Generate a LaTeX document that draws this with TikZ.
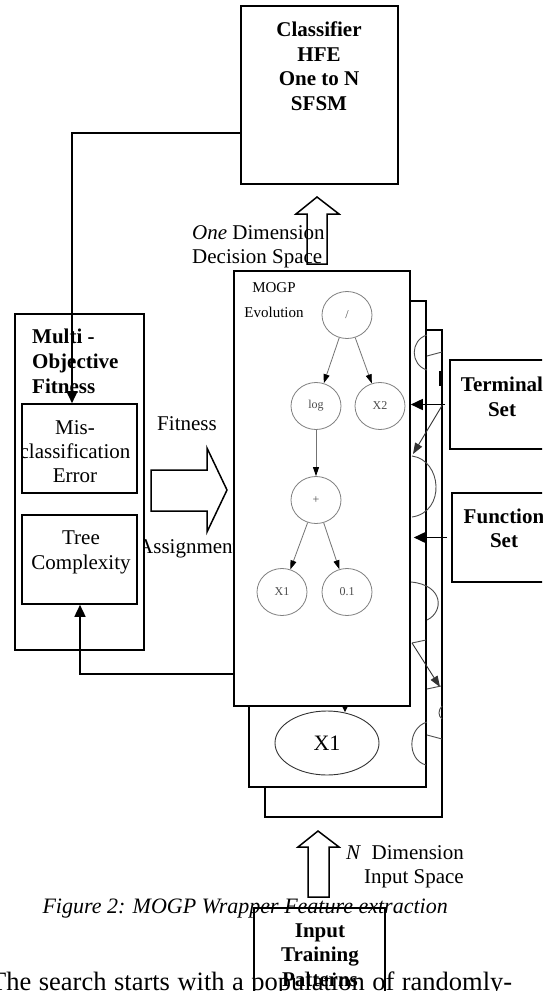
\documentclass[tikz,border=0pt]{standalone}
\usepackage{fontspec}
\setmainfont{Liberation Serif}
\usetikzlibrary{arrows.meta,shapes.geometric}
\begin{document}
\begin{tikzpicture}[x=1pt,y=-1pt,
  sheet/.style={draw,line width=1.6pt,fill=white,inner sep=0pt},
  plain/.style={font=\fontsize{21}{24}\selectfont,inner sep=0pt},
  heavy/.style={font=\fontsize{21}{24.5}\selectfont\bfseries,inner sep=0pt},
  conn/.style={line width=1.6pt,-{Triangle[length=12pt,width=11pt]}},
  blockarrow/.style={draw,line width=1.5pt,line join=miter},
  gnode/.style={ellipse,draw=black!50,line width=0.8pt,minimum width=50pt,minimum height=47pt,inner sep=0pt,font=\fontsize{12}{14}\selectfont,text=black!70},
  gedge/.style={draw=black!55,line width=0.8pt,-{Triangle[length=9pt,width=6pt,color=black]}},
  frag/.style={draw=black!70,line width=0.9pt},
  fragarrow/.style={draw=black!80,line width=0.9pt,-{Triangle[length=11pt,width=8pt]}},
]
\clip (0,0) rectangle (542,991);
\fill[white] (0,0) rectangle (542,991);

% population sheets stacked behind the current one
\node[sheet,minimum width=177pt,minimum height=487pt] (third) at (353.5,573.5) {};
\node[sheet,minimum width=177pt,minimum height=486pt] (second) at (337.5,544) {};

% visible parts of the trees on the sheets behind
\draw[frag] (427,335) .. controls (410,340) and (410,365) .. (427,370);
\draw[frag] (427,356) -- (442,352);
\draw[line width=1.5pt] (440,371) -- (440,386);
\draw[fragarrow] (443,404) -- (413,454);
\draw[frag] (412,456) .. controls (442,460) and (446,512) .. (412,517);
\draw[frag] (411,582) .. controls (444,585) and (444,612) .. (427,620);
\draw[frag] (412,643) -- (426,640);
\draw[fragarrow] (412,643) -- (440,687);
\draw[frag] (427,689) -- (441,686);
\draw[frag] (442,706) .. controls (438,710) and (438,716) .. (442,719);
\draw[frag] (427,722) .. controls (407,728) and (407,760) .. (426,765);
\draw[frag] (427,735) -- (442,739);
\node[ellipse,draw=black!80,line width=0.9pt,minimum width=104pt,minimum height=64pt,inner sep=0pt,font=\fontsize{22}{24}\selectfont] (bigx) at (327,743) {X1};
\fill (341,704) -- (349,704) -- (345,712) -- cycle;

% label partly hidden by the front sheet
\node[plain,anchor=base west] (assign) at (138,553) {Assignment};

% front sheet: MOGP evolution of a tree
\node[sheet,minimum width=176pt,minimum height=435pt] (front) at (322,488.5) {};
\node[font=\fontsize{15}{25}\selectfont,align=center,inner sep=0pt] (mogp) at (274,300.5) {MOGP\\Evolution};

\node[gnode] (root) at (347,315) {/};
\node[gnode] (log) at (316,406) {log};
\node[gnode] (x2) at (380,406) {X2};
\node[gnode] (plus) at (316,500) {+};
\node[gnode] (x1) at (282,592) {X1};
\node[gnode] (c01) at (347,592) {0.1};
\draw[gedge] (root) -- (log);
\draw[gedge] (root) -- (x2);
\draw[gedge] (log) -- (plus);
\draw[gedge] (plus) -- (x1);
\draw[gedge] (plus) -- (c01);

% classifier
\node[sheet,minimum width=157pt,minimum height=178pt] (cls) at (319.5,95) {};
\node[heavy,align=center] (clstext) at (319,66) {Classifier\\HFE\\One to N\\SFSM};

% decision space arrow
\node[plain,align=left,anchor=west] (onedim) at (192,247) {\textit{One} Dimension\\Decision Space};
\draw[blockarrow] (307,264) -- (307,214) -- (296,214) -- (317,197) -- (339,214) -- (327,214) -- (327,264) -- cycle;

% multi-objective fitness
\node[sheet,minimum width=129pt,minimum height=336pt] (multi) at (79.5,482) {};
\node[font=\fontsize{21}{25}\selectfont\bfseries,inner sep=0pt,align=left,anchor=west] (multitext) at (32,361) {Multi -\\Objective\\Fitness};
\node[sheet,minimum width=115pt,minimum height=89pt] (mis) at (79.5,448.5) {};
\begin{scope}
  \clip (22,404) rectangle (137,493);
  \node[plain,align=center] (mistext) at (75,452) {Mis-\\classification\\Error};
\end{scope}
\node[sheet,minimum width=115pt,minimum height=89pt] (tree) at (79.5,559.5) {};
\node[font=\fontsize{21}{25}\selectfont,inner sep=0pt,align=center] (treetext) at (81,552) {Tree\\Complexity};

% fitness assignment arrow
\node[plain,anchor=base] (fit) at (187,430) {Fitness};
\draw[blockarrow] (151,470) -- (207,470) -- (207,448) -- (227,490) -- (207,532) -- (207,511) -- (151,511) -- cycle;

% terminal and function sets
\node[sheet,minimum width=110pt,minimum height=89pt] (term) at (505,404.5) {};
\node[heavy,align=center] (termtext) at (502,397) {Terminal\\Set};
\node[sheet,minimum width=110pt,minimum height=89pt] (func) at (507,537.5) {};
\node[heavy,align=center] (functext) at (504,528.5) {Function\\Set};
\draw[conn] ([xshift=-4pt]term.west) -- (term.west -| front.east);
\draw[conn] ([xshift=-4pt]func.west) -- ([xshift=3pt]func.west -| front.east);

% feedback connectors
\coordinate (ctop) at (72,133);
\draw[conn] (cls.west |- ctop) -- (ctop) -- (ctop |- mis.north);
\coordinate (cbot) at (80,674);
\draw[conn] (front.west |- cbot) -- (cbot) -- (cbot |- tree.south);

% input space
\draw[blockarrow] (308,897) -- (308,847) -- (298,847) -- (318,831) -- (339,847) -- (329,847) -- (329,897) -- cycle;
\node[plain,align=right] (ndim) at (405,867) {\textit{N}\ \ Dimension\\Input Space};
\node[font=\fontsize{22}{24}\selectfont\itshape,inner sep=0pt,anchor=base east] (cap) at (448,913) {Figure 2: MOGP Wrapper Feature extraction};
\node[draw,line width=1.6pt,minimum width=131pt,minimum height=102pt,inner sep=0pt] (input) at (319.5,959) {};
\node[heavy,align=center] (inputtext) at (320,955) {Input\\Training\\Patterns};
\node[font=\fontsize{26.5}{30}\selectfont,inner sep=0pt,anchor=base west] (body) at (-10,990) {\makebox[522pt][s]{The search starts with a population of randomly-}};
\end{tikzpicture}
\end{document}
